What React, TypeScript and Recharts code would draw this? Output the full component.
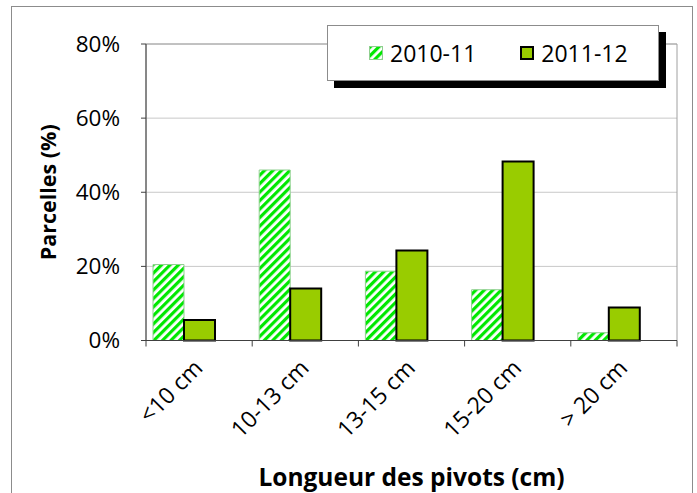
import { BarChart, Bar, XAxis, YAxis, CartesianGrid, Legend, ReferenceArea } from 'recharts';

const categories = ['<10 cm', '10-13 cm', '13-15 cm', '15-20 cm', '> 20 cm'];
const season2010 = [20.5, 46, 18.7, 13.7, 2.1];
const season2011 = [5.5, 14, 24.3, 48.3, 8.9];
const yTicks = [0, 20, 40, 60, 80];

const data = categories.map((cat, i) => ({ cat, s1: season2010[i], s2: season2011[i] }));

const FONT = '"Open Sans", "Liberation Sans", sans-serif';
const LEFT = 146;
const RIGHT = 20;
const TOP = 44;
const W = 697;
const H = 493;
const AXIS_Y = 340.5;
const BAND = (W - LEFT - RIGHT) / categories.length;

function XTick(props: any) {
  const { x, y, payload, index } = props;
  const tx = x + 5;
  const ty = y + 29;
  return (
    <g>
      <line x1={x - BAND / 2} x2={x - BAND / 2} y1={y} y2={y + 6} stroke="#404040" />
      {index === categories.length - 1 && (
        <line x1={x + BAND / 2} x2={x + BAND / 2} y1={y} y2={y + 6} stroke="#404040" />
      )}
      <text
        x={tx}
        y={ty}
        transform={`rotate(-45 ${tx} ${ty})`}
        textAnchor="end"
        fontSize={23}
        fontFamily={FONT}
        fill="#000"
      >
        {payload.value}
      </text>
    </g>
  );
}

function Swatch({ hatched }: { hatched: boolean }) {
  return (
    <svg width={14} height={14} style={{ display: 'block' }}>
      <defs>
        <pattern id="hatchLegend" patternUnits="userSpaceOnUse" width="6" height="6" patternTransform="rotate(45)">
          <rect width="6" height="6" fill="#fff" />
          <rect width="3.2" height="6" fill="#00e800" />
        </pattern>
      </defs>
      {hatched ? (
        <rect x={0.5} y={0.5} width={13} height={13} fill="url(#hatchLegend)" stroke="#8fcf8f" />
      ) : (
        <rect x={1} y={1} width={12} height={12} fill="#99cc00" stroke="#000" strokeWidth={2} />
      )}
    </svg>
  );
}

function LegendBox() {
  return (
    <div
      style={{
        width: 332,
        height: 56,
        boxSizing: 'border-box',
        border: '1px solid #8c8c8c',
        background: '#fff',
        boxShadow: '7px 7px 0 #000',
        display: 'flex',
        alignItems: 'center',
        paddingLeft: 41,
        fontFamily: FONT,
        fontSize: 23,
        color: '#000',
      }}
    >
      <Swatch hatched />
      <span style={{ marginLeft: 7, marginRight: 44 }}>2010-11</span>
      <Swatch hatched={false} />
      <span style={{ marginLeft: 7 }}>2011-12</span>
    </div>
  );
}

export default function App() {
  return (
    <div style={{ position: 'fixed', left: 0, top: 0, width: W, height: H, background: '#fff', overflow: 'hidden' }}>
      <div
        style={{
          position: 'absolute',
          left: 11,
          top: 6,
          width: 680,
          height: 500,
          border: '1.5px solid #8c8c8c',
        }}
      />
      <div style={{ position: 'absolute', left: 0, top: 0 }}>
        <BarChart
          width={W}
          height={H}
          data={data}
          margin={{ top: TOP, right: RIGHT, left: 0, bottom: 0 }}
          barCategoryGap={7}
          barGap={0}
        >
          <defs>
            <pattern id="hatch" patternUnits="userSpaceOnUse" width="6" height="6" patternTransform="rotate(45)">
              <rect width="6" height="6" fill="#fff" />
              <rect width="3.2" height="6" fill="#00e800" />
            </pattern>
          </defs>
          <CartesianGrid vertical={false} stroke="#c8c8c8" />
          <ReferenceArea x1={categories[0]} x2={categories[categories.length - 1]} y1={0} y2={80} fill="none" stroke="#a0a0a0" ifOverflow="visible" />
          <XAxis
            dataKey="cat"
            height={H - AXIS_Y}
            interval={0}
            tickSize={0}
            tickMargin={0}
            tickLine={false}
            axisLine={{ stroke: '#404040' }}
            tick={<XTick />}
            label={{
              content: (p: any) => {
                const vb = p.viewBox;
                return (
                  <text
                    x={vb.x + vb.width / 2}
                    y={vb.y + 145}
                    textAnchor="middle"
                    fontSize={24.5}
                    fontWeight="bold"
                    fontFamily={FONT}
                    fill="#000"
                  >
                    Longueur des pivots (cm)
                  </text>
                );
              },
            }}
          />
          <YAxis
            width={LEFT}
            domain={[0, 80]}
            ticks={yTicks}
            interval={0}
            tickFormatter={(v) => `${v}%`}
            tick={{ fontSize: 22.5, fill: '#000', fontFamily: FONT }}
            tickSize={5}
            tickMargin={21}
            tickLine={{ stroke: '#404040' }}
            axisLine={{ stroke: '#404040' }}
            label={{
              content: () => {
                const cx = 56;
                const cy = (TOP + AXIS_Y) / 2;
                return (
                  <text
                    x={cx}
                    y={cy}
                    transform={`rotate(-90 ${cx} ${cy})`}
                    textAnchor="middle"
                    fontSize={21.5}
                    fontWeight="bold"
                    fontFamily={FONT}
                    fill="#000"
                  >
                    Parcelles (%)
                  </text>
                );
              },
            }}
          />
          <Legend
            layout="horizontal"
            verticalAlign="middle"
            align="center"
            content={<LegendBox />}
            wrapperStyle={{ position: 'absolute', left: 327, top: 25, width: 332, height: 56 }}
          />
          <Bar dataKey="s1" name="2010-11" fill="url(#hatch)" stroke="#8fcf8f" strokeWidth={1} isAnimationActive={false} />
          <Bar dataKey="s2" name="2011-12" fill="#99cc00" stroke="#000" strokeWidth={2} isAnimationActive={false} />
          <Bar dataKey="spacer" legendType="none" isAnimationActive={false} />
        </BarChart>
      </div>
    </div>
  );
}
